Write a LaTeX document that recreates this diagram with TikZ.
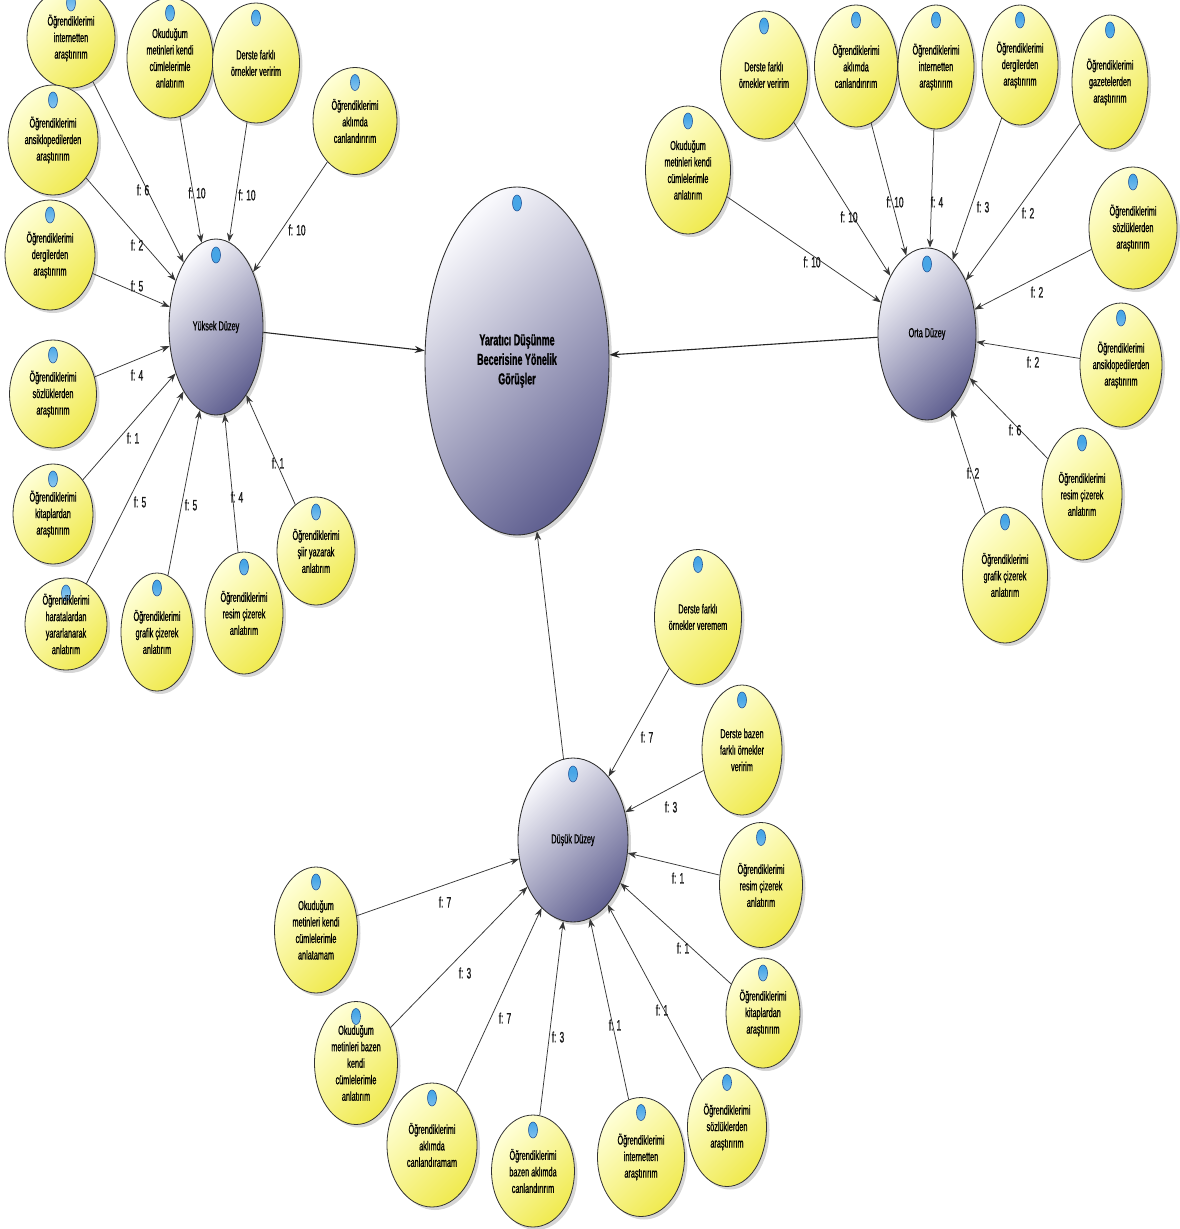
\documentclass[tikz,border=0pt]{standalone}
\usepackage{fontspec}
\setmainfont{Liberation Sans}
\newfontfamily\narrowsans[FakeStretch=0.56,FakeBold=0.9]{Liberation Sans}
\usetikzlibrary{shapes.geometric,arrows.meta,shadows}

\definecolor{satTop}{RGB}{255,255,215}
\definecolor{satBot}{RGB}{240,234,80}
\definecolor{hubTop}{RGB}{248,248,252}
\definecolor{hubBot}{RGB}{98,98,146}
\definecolor{iconFill}{RGB}{70,165,230}
\definecolor{iconLine}{RGB}{30,80,150}
\definecolor{lineGray}{RGB}{55,55,55}

\tikzset{
  badge/.style={path picture={
    \shade[inner color=white, outer color=iconFill] ([yshift=-#1]path picture bounding box.north) ellipse [x radius=4.5pt, y radius=8pt];
    \draw[iconLine, line width=0.55pt] ([yshift=-#1]path picture bounding box.north) ellipse [x radius=4.5pt, y radius=8pt];
  }},
  sz/.style 2 args={minimum width=#1pt, minimum height=#2pt},
  soft shadow/.style={drop shadow={shadow xshift=3pt, shadow yshift=-3pt, fill=black, opacity=0.16}},
  sat/.style={ellipse, draw=black!80, line width=0.8pt, top color=satTop, bottom color=satBot,
    shading angle=45, soft shadow, badge=15pt, align=center, inner sep=0pt, text=black,
    font=\narrowsans\fontsize{13}{16.5}\selectfont},
  hub/.style={ellipse, draw=black!82, line width=0.85pt, top color=hubTop, bottom color=hubBot,
    shading angle=45, soft shadow, badge=16pt, align=center, inner sep=0pt, text=black,
    font=\narrowsans\fontsize{13}{16.5}\selectfont},
  conn/.style={draw=lineGray, line width=0.75pt, -{Stealth[length=9pt,width=6.5pt]}},
  trunk/.style={draw=black!85, line width=1.1pt, -{Stealth[length=10pt,width=7pt]}},
  lbl/.style={inner sep=0pt, text=black!90, font=\narrowsans\fontsize{15}{18}\selectfont},
}

\begin{document}
\begin{tikzpicture}[x=1pt, y=-1pt]
\path[use as bounding box, fill=white] (0,0) rectangle (1180,1229);
\clip (0,0) rectangle (1180,1229);

% ---------- hubs ----------
\node[hub, sz={184}{348}, font=\narrowsans\bfseries\fontsize{16}{19.5}\selectfont] (C) at (517,361)
  {Yaratıcı Düşünme\\Becerisine Yönelik\\Görüşler};
\node[hub, sz={94}{176}] (Y) at (216,327) {Yüksek Düzey};
\node[hub, sz={98}{172}] (O) at (927,334) {Orta Düzey};
\node[hub, sz={110}{164}] (D) at (573,840) {Düşük Düzey};

% ---------- Yüksek Düzey ----------
\node[sat, sz={88}{100}] (ya) at (71,38)  {Öğrendiklerimi\\internetten\\araştırırım};
\node[sat, sz={86}{120}] (yb) at (170,58) {Okuduğum\\metinleri kendi\\cümlelerimle\\anlatırım};
\node[sat, sz={87}{120}] (yc) at (256,63) {Derste farklı\\örnekler veririm};
\node[sat, sz={84}{107}] (yd) at (355,121) {Öğrendiklerimi\\aklımda\\canlandırırım};
\node[sat, sz={90}{110}] (ye) at (53,140) {Öğrendiklerimi\\ansiklopedilerden\\araştırırım};
\node[sat, sz={90}{110}] (yf) at (50,255) {Öğrendiklerimi\\dergilerden\\araştırırım};
\node[sat, sz={87}{108}] (yg) at (53,394) {Öğrendiklerimi\\sözlüklerden\\araştırırım};
\node[sat, sz={80}{100}] (yh) at (53,514) {Öğrendiklerimi\\kitaplardan\\araştırırım};
\node[sat, sz={82}{92}]  (yi) at (66,624) {Öğrendiklerimi\\haratalardan\\yararlanarak\\anlatırım};
\node[sat, sz={72}{118}] (yj) at (157,632) {Öğrendiklerimi\\grafik çizerek\\anlatırım};
\node[sat, sz={78}{122}] (yk) at (244,613) {Öğrendiklerimi\\resim çizerek\\anlatırım};
\node[sat, sz={78}{108}] (yl) at (316,551) {Öğrendiklerimi\\şiir yazarak\\anlatırım};

\foreach \s in {ya,yb,yc,yd,ye,yf,yg,yh,yi,yj,yk,yl}
  \draw[conn] (\s) -- (Y);

\node[lbl] (lya) at (143,190) {f: 6};
\node[lbl] (lyb) at (197,193) {f: 10};
\node[lbl] (lyc) at (247,195) {f: 10};
\node[lbl] (lyd) at (297,230) {f: 10};
\node[lbl] (lye) at (137,245) {f: 2};
\node[lbl] (lyf) at (137,286) {f: 5};
\node[lbl] (lyg) at (137,375) {f: 4};
\node[lbl] (lyh) at (133,438) {f: 1};
\node[lbl] (lyi) at (140,502) {f: 5};
\node[lbl] (lyj) at (191,505) {f: 5};
\node[lbl] (lyk) at (237,497) {f: 4};
\node[lbl] (lyl) at (278,463) {f: 1};

% ---------- Orta Düzey ----------
\node[sat, sz={85}{128}] (oa) at (688,170) {Okuduğum\\metinleri kendi\\cümlelerimle\\anlatırım};
\node[sat, sz={87}{128}] (ob) at (764,75)  {Derste farklı\\örnekler veririm};
\node[sat, sz={83}{122}] (oc) at (856,66)  {Öğrendiklerimi\\aklımda\\canlandırırım};
\node[sat, sz={76}{124}] (od) at (936,67)  {Öğrendiklerimi\\internetten\\araştırırım};
\node[sat, sz={76}{120}] (oe) at (1020,65) {Öğrendiklerimi\\dergilerden\\araştırırım};
\node[sat, sz={76}{134}] (of) at (1110,82) {Öğrendiklerimi\\gazetelerden\\araştırırım};
\node[sat, sz={88}{122}] (og) at (1133,228) {Öğrendiklerimi\\sözlüklerden\\araştırırım};
\node[sat, sz={82}{124}] (oh) at (1121,365) {Öğrendiklerimi\\ansiklopedilerden\\araştırırım};
\node[sat, sz={80}{132}] (oi) at (1082,494) {Öğrendiklerimi\\resim çizerek\\anlatırım};
\node[sat, sz={85}{136}] (oj) at (1005,575) {Öğrendiklerimi\\grafik çizerek\\anlatırım};

\foreach \s in {oa,ob,oc,od,oe,of,og,oh,oi,oj}
  \draw[conn] (\s) -- (O);

\node[lbl] (loa) at (812,262) {f: 10};
\node[lbl] (lob) at (849,217) {f: 10};
\node[lbl] (loc) at (895,202) {f: 10};
\node[lbl] (lod) at (937,202) {f: 4};
\node[lbl] (loe) at (983,207) {f: 3};
\node[lbl] (lof) at (1028,213) {f: 2};
\node[lbl] (log) at (1037,292) {f: 2};
\node[lbl] (loh) at (1033,362) {f: 2};
\node[lbl] (loi) at (1015,430) {f: 6};
\node[lbl] (loj) at (973,473) {f: 2};

% ---------- Düşük Düzey ----------
\node[sat, sz={87}{135}] (da) at (698,617)  {Derste farklı\\örnekler veremem};
\node[sat, sz={80}{130}] (db) at (742,750)  {Derste bazen\\farklı örnekler\\veririm};
\node[sat, sz={83}{125}] (dc) at (761,885)  {Öğrendiklerimi\\resim çizerek\\anlatırım};
\node[sat, sz={74}{110}] (dd) at (763,1013) {Öğrendiklerimi\\kitaplardan\\araştırırım};
\node[sat, sz={79}{119}] (de) at (727,1127) {Öğrendiklerimi\\sözlüklerden\\araştırırım};
\node[sat, sz={87}{119}] (df) at (641,1157) {Öğrendiklerimi\\internetten\\araştırırım};
\node[sat, sz={83}{112}] (dg) at (533,1171) {Öğrendiklerimi\\bazen aklımda\\canlandırırım};
\node[sat, sz={90}{124}] (dh) at (432,1145) {Öğrendiklerimi\\aklımda\\canlandıramam};
\node[sat, sz={83}{123}] (di) at (356,1063) {Okuduğum\\metinleri bazen\\kendi\\cümlelerimle\\anlatırım};
\node[sat, sz={83}{126}] (dj) at (316,930)  {Okuduğum\\metinleri kendi\\cümlelerimle\\anlatamam};

\foreach \s in {da,db,dc,dd,de,df,dg,dh,di,dj}
  \draw[conn] (\s) -- (D);

\node[lbl] (lda) at (647,737)  {f: 7};
\node[lbl] (ldb) at (671,807)  {f: 3};
\node[lbl] (ldc) at (678,878)  {f: 1};
\node[lbl] (ldd) at (683,948)  {f: 1};
\node[lbl] (lde) at (662,1010) {f: 1};
\node[lbl] (ldf) at (615,1025) {f: 1};
\node[lbl] (ldg) at (558,1037) {f: 3};
\node[lbl] (ldh) at (505,1018) {f: 7};
\node[lbl] (ldi) at (465,973)  {f: 3};
\node[lbl] (ldj) at (445,902)  {f: 7};

% ---------- levels into the central question ----------
\draw[trunk] (Y) -- (C);
\draw[trunk] (O) -- (C);
\draw[conn] (D) -- (C);
\end{tikzpicture}
\end{document}
